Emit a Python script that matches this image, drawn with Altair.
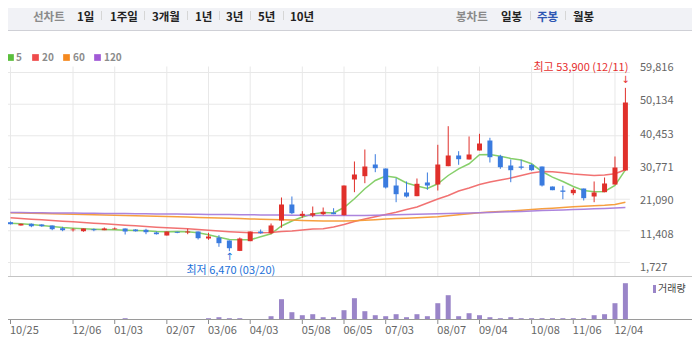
import altair as alt
import pandas as pd

# ---------------- data ----------------
opens = [14880, 13930, 14420, 14220, 13930, 13140, 12560, 12270, 12850, 12560,
         12850, 13060, 12760, 12680, 11890, 11020, 12100, 11890, 12180, 10150,
         10440, 9570, 6550, 9370, 12180, 11690, 15380, 20030, 16740, 16830,
         17210, 17700, 16920, 27290, 28250, 31640, 30480, 25540, 23510, 22440,
         26420, 25830, 31150, 34260, 33100, 35710, 38610, 34050, 31350, 31060,
         31560, 31060, 25250, 24090, 23310, 24670, 22350, 23600, 25830, 29900]
highs = [15090, 14450, 14510, 14300, 13930, 13550, 13140, 13060, 13060, 13350,
         13350, 13060, 12850, 12970, 12180, 12180, 12100, 12970, 12180, 11810,
         11110, 9570, 10440, 12180, 12760, 14510, 22060, 22350, 18080, 19440,
         19150, 18950, 25540, 32520, 36000, 34640, 30480, 27660, 26710, 27580,
         29320, 37370, 42770, 35510, 39780, 40560, 39400, 34460, 33100, 33010,
         31850, 31060, 25250, 25460, 24880, 24670, 26710, 27870, 33970, 53900]
lows = [14220, 13900, 13430, 13550, 12560, 12270, 12180, 12100, 12270, 12560,
        12760, 11310, 12180, 11400, 11310, 11020, 11690, 11400, 9860, 9770,
        7740, 6470, 6500, 9370, 11520, 11400, 13260, 17210, 16160, 16340,
        16920, 17210, 16830, 23600, 26210, 29410, 24670, 20690, 22060, 22440,
        24300, 24090, 31150, 31560, 33100, 35710, 32220, 30390, 26500, 30190,
        29810, 25250, 24180, 21570, 22730, 21190, 20690, 23600, 25830, 29900]
closes = [14300, 14420, 13720, 13720, 12850, 12560, 12760, 13060, 12560, 13060,
          13060, 12180, 12270, 11980, 11400, 12180, 11810, 12180, 10240, 10730,
          8790, 7330, 10150, 12180, 11690, 13930, 20030, 17500, 17320, 17500,
          17910, 17210, 25540, 28740, 31060, 30570, 24960, 23020, 22350, 26040,
          25540, 31640, 34260, 33180, 34550, 37740, 33760, 30860, 29990, 30690,
          29990, 25540, 24180, 23710, 24300, 21860, 23510, 26130, 30770, 49650]

ma5 = [14590, 14420, 14220, 13930, 13640, 13350, 13140, 12970, 12850, 12760,
       12680, 12560, 12470, 12390, 12180, 12100, 12180, 12100, 11810, 11230,
       10530, 9860, 9770, 9770, 10640, 11520, 13780, 15230, 16400, 17270,
       17700, 17560, 19150, 21680, 24590, 27000, 28300, 27870, 26270, 25400,
       24670, 26040, 28450, 30390, 31850, 34460, 34550, 34050, 33390, 32950,
       31850, 29610, 27960, 26710, 25250, 24090, 23710, 23800, 25540, 30100]
ma20 = [16160, 15960, 15760, 15580, 15380, 15180, 15000, 14800, 14590, 14420,
        14220, 14010, 13840, 13640, 13430, 13260, 13110, 12970, 12760, 12530,
        12330, 12130, 11980, 11840, 11810, 11890, 12180, 12330, 12620, 12910,
        13000, 13490, 14220, 15090, 15810, 16450, 17120, 17790, 18570, 19300,
        20460, 21620, 22640, 23950, 24820, 25830, 26560, 27140, 27720, 28450,
        29180, 29610, 29520, 29230, 28880, 28650, 28450, 28590, 28940, 30100]
ma60 = [17620, 17560, 17470, 17410, 17320, 17270, 17180, 17120, 17030, 16980,
        16920, 16830, 16770, 16690, 16630, 16540, 16450, 16370, 16280, 16190,
        16100, 16020, 15930, 15840, 15760, 15670, 15580, 15490, 15410, 15320,
        15230, 15200, 15230, 15320, 15440, 15610, 15810, 15930, 16020, 16160,
        16310, 16480, 16740, 17030, 17320, 17620, 17850, 17990, 18140, 18340,
        18570, 18780, 18950, 19150, 19360, 19530, 19680, 19820, 20030, 20690]
ma120 = [17700, 17670, 17640, 17620, 17590, 17560, 17530, 17500, 17470, 17440,
         17410, 17380, 17350, 17320, 17300, 17270, 17240, 17210, 17180, 17150,
         17120, 17090, 17060, 17030, 17010, 16980, 16950, 16920, 16890, 16860,
         16830, 16800, 16800, 16830, 16860, 16920, 16980, 17030, 17120, 17180,
         17270, 17320, 17410, 17470, 17560, 17620, 17730, 17820, 17930, 18020,
         18140, 18250, 18340, 18460, 18540, 18660, 18780, 18890, 19010, 19150]

volumes = [2, 2, 2, 2, 2, 2, 2, 2, 2, 2,
           3, 13, 3, 3, 3, 3, 3, 3, 3, 13,
           23, 13, 13, 5, 5, 33, 203, 73, 43, 53,
           23, 23, 93, 213, 83, 43, 33, 53, 23, 53,
           33, 163, 243, 33, 63, 43, 23, 13, 23, 13,
           13, 13, 13, 13, 13, 13, 43, 53, 163, 363]

tick_index = [0, 6, 10, 15, 19, 23, 28, 32, 36, 41, 45, 50, 54, 58]
tick_labels = ["10/25", "12/06", "01/03", "02/07", "03/06", "04/03", "05/08",
               "06/05", "07/03", "08/07", "09/04", "10/08", "11/06", "12/04"]
price_ticks = [1727, 11408, 21090, 30771, 40453, 50134, 59816]
ma_names = ["5", "20", "60", "120"]
line_tabs = ["1일", "1주일", "3개월", "1년", "3년", "5년", "10년"]
candle_tabs = ["일봉", "주봉", "월봉"]
selected_candle_tab = "주봉"
high_date = "12/11"
low_date = "03/20"
volume_label = "거래량"

# ---------------- styling / layout ----------------
FONT = "Noto Sans CJK KR"
RED = "#e0302b"
BLUE = "#3a7bdf"
VOL = "#9a85c8"
GRID = "#e8e8e8"
MA_LINE = ["#7fcc62", "#f06a6a", "#f59a35", "#a87ddb"]
MA_KEY = ["#5bbf3c", "#ef4b4b", "#f5891f", "#a15ad6"]

n = len(closes)
candles = pd.DataFrame({"i": list(range(n)), "open": opens, "high": highs,
                        "low": lows, "close": closes, "vol": volumes})
candles["dir"] = ["up" if c >= o else "down" for o, c in zip(opens, closes)]
ticks_df = pd.DataFrame({"i": tick_index, "label": tick_labels})
price_df = pd.DataFrame({"p": price_ticks, "label": [f"{v:,}" for v in price_ticks]})

# pixel ranges chosen so that 1px lines fall on pixel centres
X = alt.Scale(domain=[0, n - 1], range=[5.5, 630.4])
YP = alt.Scale(domain=[price_ticks[0], price_ticks[-1]], range=[267.5, 67.5], zero=False, nice=False)
YV = alt.Scale(domain=[0, 433], range=[319.5, 276.2], zero=False, nice=False)
CDIR = alt.Scale(domain=["up", "down"], range=[RED, BLUE])

# extents of the price panel expressed in scale units
PANEL_TOP = 60100            # price value at the top gridline's upper edge
PANEL_BOTTOM = -792          # price value at the panel's lower border
GRID_LEFT, GRID_RIGHT = -0.52, 59.43   # index values at the grid's left / right ends
TICK_DOWN = -45              # volume units: short tick below the volume baseline

one = pd.DataFrame({"k": [0]})


def text(s, x, y, size, color, weight="normal", align="left", font=FONT):
    return alt.Chart(one).mark_text(text=s, align=align, baseline="middle", fontSize=size,
                                    color=color, fontWeight=weight, font=font).encode(
        x=alt.value(x), y=alt.value(y))


def hline(y0, y1, x0, x1, color):
    return alt.Chart(one).mark_rect(color=color).encode(
        x=alt.value(x0), x2=alt.value(x1), y=alt.value(y0), y2=alt.value(y1))


layers = []

# header bar
layers.append(hline(0, 30, 0, 700, "#f1f2f6"))
layers.append(hline(30, 31, 0, 700, "#cfd0d6"))
HY = 18.3
layers.append(text("선차트", 33, HY, 11.5, "#8a8a8a", "bold"))
for s, x in zip(line_tabs, [77, 110, 152, 195, 226, 258, 290]):
    layers.append(text(s, x, HY, 11.5, "#222222", "bold"))
for x in [101, 144, 187, 219, 250, 283]:
    layers.append(hline(11, 20, x, x + 1, "#d6d6d6"))
layers.append(text("봉차트", 456, HY, 11.5, "#8a8a8a", "bold"))
for s, x in zip(candle_tabs, [501, 537, 573]):
    layers.append(text(s, x, HY, 11.5, "#2d56b3" if s == selected_candle_tab else "#222222", "bold"))
for x in [530, 565]:
    layers.append(hline(11, 20, x, x + 1, "#d6d6d6"))

# MA key
for name, col, xs, xt in zip(ma_names, MA_KEY, [10.5, 35.5, 66.5, 97.5], [16, 42, 73, 104]):
    layers.append(alt.Chart(one).mark_square(size=45, color=col, opacity=1).encode(
        x=alt.value(xs), y=alt.value(57.5)))
    layers.append(text(name, xt, 57.5, 10, "#8c8c8c", "bold"))

# horizontal gridlines (price ticks), drawn as 1px bars, and their labels on the right
layers.append(alt.Chart(price_df).transform_calculate(
    x0=str(GRID_LEFT), x1=str(GRID_RIGHT)).mark_bar(orient="horizontal", size=1, color=GRID).encode(
    y=alt.Y("p:Q", scale=YP, axis=None),
    x=alt.X("x0:Q", scale=X, axis=None), x2="x1:Q"))
layers.append(alt.Chart(price_df).mark_text(align="left", baseline="middle", dy=0.5,
                                            fontSize=11, color="#666666", font=FONT).encode(
    y=alt.Y("p:Q", scale=YP, axis=None), x=alt.value(640), text="label:N"))

# vertical gridlines, date ticks (1px bars) and date labels
layers.append(alt.Chart(ticks_df).transform_calculate(
    top=str(PANEL_TOP), bot=str(PANEL_BOTTOM)).mark_bar(orient="vertical", size=1, color=GRID).encode(
    x=alt.X("i:Q", scale=X, axis=None),
    y=alt.Y("top:Q", scale=YP, axis=None), y2="bot:Q"))
layers.append(alt.Chart(ticks_df).transform_calculate(
    t0="0", t1=str(TICK_DOWN)).mark_bar(orient="vertical", size=1, color="#8c8c8c").encode(
    x=alt.X("i:Q", scale=X, axis=None),
    y=alt.Y("t0:Q", scale=YV, axis=None), y2="t1:Q"))
layers.append(alt.Chart(ticks_df).mark_text(align="left", baseline="middle", dx=-0.5, fontSize=11,
                                            color="#666666", font=FONT).encode(
    x=alt.X("i:Q", scale=X, axis=None), y=alt.value(331), text="label:N"))
layers.append(hline(276, 277, 0, 700, "#c4c4c4"))

# moving averages
for name, vals, col in zip(ma_names, [ma5, ma20, ma60, ma120], MA_LINE):
    layers.append(alt.Chart(pd.DataFrame({"i": list(range(n)), "v": vals})).mark_line(
        color=col, strokeWidth=1.5, opacity=0.95).encode(
        x=alt.X("i:Q", scale=X, axis=None),
        y=alt.Y("v:Q", scale=YP, axis=None)))

# candles
base = alt.Chart(candles)
layers.append(base.mark_rule(strokeWidth=1).encode(
    x=alt.X("i:Q", scale=X, axis=None),
    y=alt.Y("low:Q", scale=YP, axis=None), y2="high:Q",
    color=alt.Color("dir:N", scale=CDIR, legend=None)))
layers.append(base.mark_bar(size=5).encode(
    x=alt.X("i:Q", scale=X, axis=None),
    y=alt.Y("open:Q", scale=YP, axis=None), y2="close:Q",
    color=alt.Color("dir:N", scale=CDIR, legend=None)))

# volume
layers.append(base.mark_bar(size=5, color=VOL).encode(
    x=alt.X("i:Q", scale=X, axis=None),
    y=alt.Y("vol:Q", scale=YV, axis=None)))
layers.append(hline(319, 320, 0, 700, "#9a9a9a"))
layers.append(hline(285, 293, 653, 656, VOL))
layers.append(text(volume_label, 658, 289, 10, "#444444"))

# high / low annotations
hi_i = highs.index(max(highs))
lo_i = lows.index(min(lows))
hi_df = pd.DataFrame({"i": [hi_i], "p": [highs[hi_i]],
                      "label": [f"최고 {highs[hi_i]:,} ({high_date})"]})
lo_df = pd.DataFrame({"i": [lo_i], "p": [lows[lo_i]],
                      "label": [f"최저 {lows[lo_i]:,} ({low_date})"]})
enc = dict(x=alt.X("i:Q", scale=X, axis=None), y=alt.Y("p:Q", scale=YP, axis=None))
layers.append(alt.Chart(hi_df).mark_text(align="right", baseline="middle", dx=3, dy=-20,
                                         fontSize=11, color="#e62e2e", font=FONT).encode(
    text="label:N", **enc))
layers.append(alt.Chart(hi_df).mark_text(text="↓", align="center", baseline="middle", dy=-8,
                                         fontSize=10, color="#e62e2e", font="DejaVu Sans").encode(**enc))
layers.append(alt.Chart(lo_df).mark_text(align="center", baseline="middle", dx=1.5, dy=19.5,
                                         fontSize=11, color="#2170d8", font=FONT).encode(
    text="label:N", **enc))
layers.append(alt.Chart(lo_df).mark_text(text="↑", align="center", baseline="middle", dy=6,
                                         fontSize=10, color="#2170d8", font="DejaVu Sans").encode(**enc))

# plot area = 635 x 320 (content coordinates equal page pixels thanks to the -8 padding)
chart = alt.layer(*layers).resolve_scale(y="independent").properties(
    width=635, height=320,
    autosize=alt.AutoSizeParams(type="none"),
    padding={"left": -8, "top": -8, "right": 57, "bottom": 26},
).configure_view(stroke=None)

chart.save("out.html", embed_options={"renderer": "svg", "actions": False})
